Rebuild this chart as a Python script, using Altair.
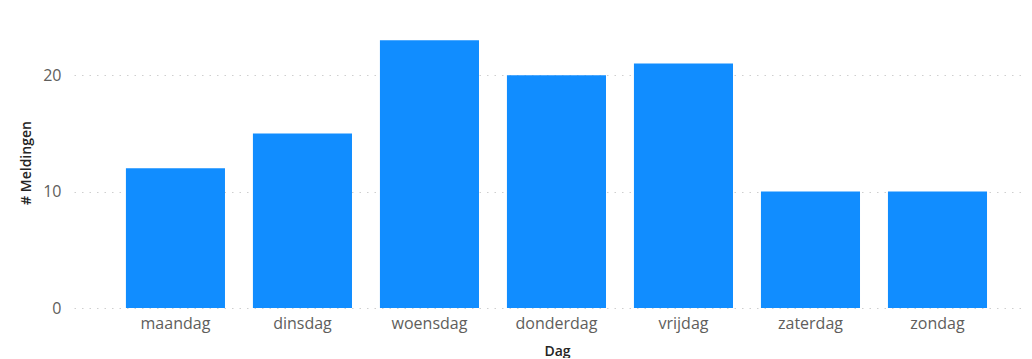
import altair as alt
import pandas as pd

days = ["maandag", "dinsdag", "woensdag", "donderdag", "vrijdag", "zaterdag", "zondag"]
counts = [12, 15, 23, 20, 21, 10, 10]

df = pd.DataFrame({"Dag": days, "Meldingen": counts})

FONT = "Open Sans"

chart = alt.Chart(df).mark_bar(color="#118DFF").encode(
    x=alt.X(
        "Dag:N",
        sort=days,
        title="Dag",
        scale=alt.Scale(paddingInner=0.22, paddingOuter=0.35, align=0.584),
        axis=alt.Axis(
            labelAngle=0,
            labelFont=FONT,
            labelFontSize=16,
            labelColor="#605E5C",
            labelPadding=7,
            ticks=False,
            tickSize=0,
            domain=False,
            grid=False,
            titleFont=FONT,
            titleFontSize=14,
            titleFontWeight=600,
            titleColor="#252423",
            titleX=483,
            titleY=47,
            titleBaseline="alphabetic",
            titleAlign="center",
        ),
    ),
    y=alt.Y(
        "Meldingen:Q",
        title="# Meldingen",
        scale=alt.Scale(domain=[0, 25], nice=False),
        axis=alt.Axis(
            values=[0, 10, 20],
            labelFont=FONT,
            labelFontSize=16,
            labelColor="#605E5C",
            labelPadding=13,
            ticks=False,
            tickSize=0,
            domain=False,
            grid=True,
            gridColor="#CFCFCF",
            gridDash=[1.5, 6],
            gridWidth=1,
            titleFont=FONT,
            titleFontSize=14,
            titleFontWeight=600,
            titleColor="#252423",
            titleX=-48,
            titleY=145.5,
            titleAngle=270,
            titleBaseline="middle",
            titleAlign="center",
        ),
    ),
).properties(
    width=950,
    height=291,
    autosize=alt.AutoSizeParams(type="none"),
    padding={"left": 66, "top": 9, "right": 0, "bottom": 50},
).configure_view(stroke=None)

chart.save("out.html", embed_options={"renderer": "svg", "actions": False})
